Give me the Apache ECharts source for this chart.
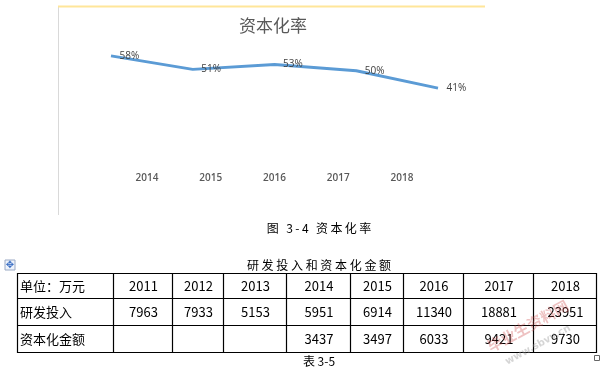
<!DOCTYPE html>
<html>
<head>
<meta charset="utf-8">
<script src="https://cdn.jsdelivr.net/npm/echarts@6/dist/echarts.min.js"></script>
<style>
html,body{margin:0;padding:0;background:#fff;}
#c{width:603px;height:371px;}
</style>
</head>
<body>
<div id="c"></div>
<script>
// ---- data ----
const chartTitle = '资本化率';
const chartYears = ['2014', '2015', '2016', '2017', '2018'];
const capRate = [0.578, 0.506, 0.532, 0.499, 0.406];
const figCaption = '图 3-4 资本化率';
const tableTitle = '研发投入和资本化金额';
const tableCaption = '表 3-5';
const tableHeader = '单位：万元';
const tableYears = ['2011', '2012', '2013', '2014', '2015', '2016', '2017', '2018'];
const rowNames = ['研发投入', '资本化金额'];
const rdInput = ['7963', '7933', '5153', '5951', '6914', '11340', '18881', '23951'];
const capAmount = ['', '', '', '3437', '3497', '6033', '9421', '9730'];

// ---- layout (table geometry) ----
const colX = [17, 113, 172, 223, 286, 350, 403, 463, 533, 596];
const rowY = [273, 298, 325, 352];
const cjk = '"Noto Sans CJK SC", sans-serif';

const graphics = [];
// chart frame lines
graphics.push({type: 'line', shape: {x1: 58.5, y1: 6, x2: 58.5, y2: 215}, style: {stroke: '#d9d9d9', lineWidth: 1}, silent: true});
graphics.push({type: 'line', shape: {x1: 58, y1: 6.5, x2: 485, y2: 6.5}, style: {stroke: '#ffe699', lineWidth: 2}, silent: true});
// chart title
graphics.push({type: 'text', x: 273, y: 26, style: {text: chartTitle, font: '17px ' + cjk, fill: '#595959', textAlign: 'center', textVerticalAlign: 'middle'}});
// figure caption
graphics.push({type: 'text', x: 319, y: 228, style: {text: figCaption.split('').join('\u2009'), font: '12px ' + cjk, fill: '#000', textAlign: 'center', textVerticalAlign: 'middle'}});
// table title
graphics.push({type: 'text', x: 319, y: 265, style: {text: tableTitle.split('').join(' '), font: '12px ' + cjk, fill: '#000', textAlign: 'center', textVerticalAlign: 'middle'}});
// table caption
graphics.push({type: 'text', x: 319, y: 361, style: {text: tableCaption, font: '12px ' + cjk, fill: '#000', textAlign: 'center', textVerticalAlign: 'middle'}});
// move handle icon
graphics.push({type: 'rect', shape: {x: 5, y: 260, width: 10, height: 10}, style: {fill: '#eef3fb', stroke: '#9aa9c4', lineWidth: 1}});
graphics.push({type: 'text', x: 10, y: 265.5, style: {text: '✥', font: '10px "DejaVu Sans"', fill: '#3b6fc4', textAlign: 'center', textVerticalAlign: 'middle'}});
// resize handle
graphics.push({type: 'rect', shape: {x: 594.5, y: 355.5, width: 5, height: 5}, style: {fill: '#fff', stroke: '#666', lineWidth: 1}});

// table grid
for (let i = 0; i < rowY.length; i++) {
  graphics.push({type: 'line', shape: {x1: colX[0], y1: rowY[i] + 0.5, x2: colX[colX.length - 1] + 1, y2: rowY[i] + 0.5}, style: {stroke: '#000', lineWidth: 1.2}});
}
for (let j = 0; j < colX.length; j++) {
  graphics.push({type: 'line', shape: {x1: colX[j] + 0.5, y1: rowY[0], x2: colX[j] + 0.5, y2: rowY[rowY.length - 1] + 1}, style: {stroke: '#000', lineWidth: 1.2}});
}
function cellText(txt, col, row, left) {
  if (!txt) return;
  const cy = (rowY[row] + rowY[row + 1]) / 2 + 1;
  const x = left ? colX[col] + 3 : (colX[col] + colX[col + 1]) / 2 + 1;
  graphics.push({type: 'text', x: x, y: cy, style: {text: txt, font: '13px ' + cjk, fill: '#000', textAlign: left ? 'left' : 'center', textVerticalAlign: 'middle'}});
}
cellText(tableHeader, 0, 0, true);
tableYears.forEach((y, k) => cellText(y, k + 1, 0, false));
cellText(rowNames[0], 0, 1, true);
rdInput.forEach((v, k) => cellText(v, k + 1, 1, false));
cellText(rowNames[1], 0, 2, true);
capAmount.forEach((v, k) => cellText(v, k + 1, 2, false));

// watermark
graphics.push({type: 'text', x: 528, y: 326, rotation: 0.5, style: {text: '毕业生资料网', font: 'bold 15px ' + cjk, fill: 'rgba(205,80,80,0.35)', textAlign: 'center', textVerticalAlign: 'middle'}});
graphics.push({type: 'text', x: 538, y: 345, rotation: 0.5, style: {text: 'www.sbvv.cn', font: 'bold 10px "DejaVu Sans"', fill: 'rgba(150,150,150,0.4)', textAlign: 'center', textVerticalAlign: 'middle'}});

const chart = echarts.init(document.getElementById('c'), null, {renderer: 'canvas'});
chart.setOption({
  backgroundColor: '#fff',
  animation: false,
  grid: [
    {left: 111, right: 165, top: 33, bottom: 263, containLabel: false},
    {left: 147, right: 201, top: 120, bottom: 206, containLabel: false}
  ],
  xAxis: [
    {type: 'category', gridIndex: 0, data: chartYears, boundaryGap: false,
      axisLine: {show: false}, axisTick: {show: false}, axisLabel: {show: false}, splitLine: {show: false}},
    {type: 'category', gridIndex: 1, data: chartYears, boundaryGap: false,
      axisLine: {show: false}, axisTick: {show: false}, splitLine: {show: false},
      axisLabel: {show: true, color: '#595959', fontSize: 10, fontFamily: '"Open Sans", sans-serif', fontWeight: 600, margin: 8}}
  ],
  yAxis: [
    {type: 'value', gridIndex: 0, min: 0.3, max: 0.7, show: false, splitLine: {show: false}},
    {type: 'value', gridIndex: 1, min: 0, max: 1, show: false, splitLine: {show: false}}
  ],
  series: [{
    type: 'line', xAxisIndex: 0, yAxisIndex: 0, data: capRate,
    showSymbol: true, symbol: 'circle', symbolSize: 1,
    itemStyle: {color: 'rgba(91,155,213,0)', borderWidth: 0},
    lineStyle: {color: '#5b9bd5', width: 3},
    labelLayout: {hideOverlap: false},
    label: {show: true, position: 'right', distance: 8, offset: [0, 2], color: '#404040', fontSize: 10,
      fontFamily: '"Open Sans", sans-serif',
      formatter: p => Math.round(p.value * 100) + '%'}
  }],
  graphic: graphics
});
</script>
</body>
</html>
